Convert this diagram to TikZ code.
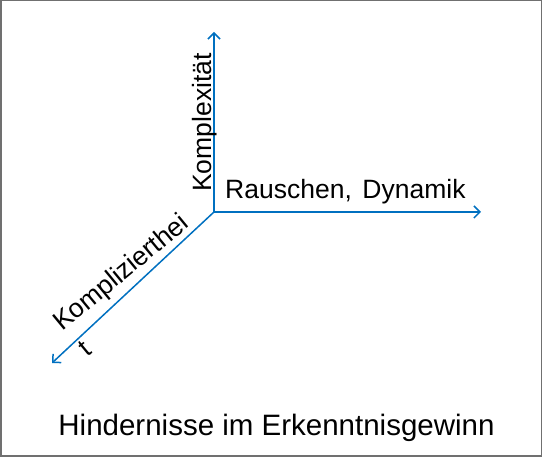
\documentclass[tikz,border=0pt]{standalone}
\usepackage{fontspec}
\setmainfont{Liberation Sans}
\usetikzlibrary{arrows.meta}
\definecolor{axisblue}{RGB}{0,112,192}
\definecolor{framegray}{RGB}{112,112,112}
\begin{document}
\begin{tikzpicture}[x=1pt, y=1pt, >={Straight Barb[length=6pt, width=12pt]},
    axis/.style={->, line width=1.5pt, axisblue},
    lbl/.style={inner sep=0pt, font=\fontsize{26.5}{30}\selectfont}]
    % Frame
    \useasboundingbox (0,0) rectangle (542,457);
    \draw[framegray, line width=1.5pt] (0.75,0.75) rectangle (541.25,456.25);

    % Axes
    \coordinate (origin) at (214,245);
    \coordinate (kplx) at (214,425);
    \coordinate (rausch) at (481,245);
    \coordinate (kpliz) at (52,94);
    \draw[axis] (origin) -- (kplx);
    \draw[axis] (origin) -- (rausch);
    \draw[axis] (origin) -- (kpliz);

    % Labels
    \node[lbl, rotate=90, anchor=base west] (kplxlabel) at (211.5,265) {Komplexität};
    \node[lbl, anchor=base west] (rauschlabel) at (225,258) {Rauschen,\hspace{0.4em}Dynamik};
    \node[lbl, rotate=39.5, anchor=base west] (kplizlabel) at (62,125) {Komplizierthei};
    \node[lbl, rotate=39.5, anchor=base west] (kpliztail) at (87,99) {t};

    % Title
    \node[lbl, anchor=base, font=\fontsize{29.5}{34}\selectfont] (title) at (276.5,21)
        {Hindernisse im Erkenntnisgewinn};
\end{tikzpicture}
\end{document}
